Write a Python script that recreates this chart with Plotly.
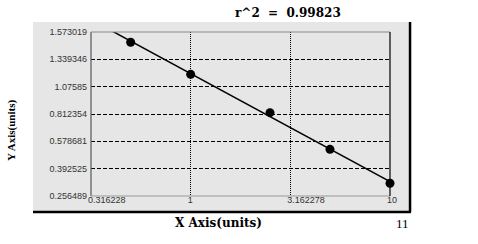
import numpy as np
import plotly.graph_objects as go

# ---- data ----
x_vals = [0.5, 1.0, 2.5, 5.0, 10.0]
y_vals = [1.485, 1.195, 0.825, 0.524, 0.320]
y_tick_labels = ["0.256489", "0.392525", "0.578681", "0.812354", "1.07585", "1.339346", "1.573019"]
x_tick_vals = [0.316228, 1.0, 3.162278, 10.0]
x_tick_labels = ["0.316228", "1", "3.162278", "10"]
r2_text = "r^2  =  0.99823"

# y axis is evenly spaced between its tick labels (piecewise scale)
y_tick_nums = np.array([float(v) for v in y_tick_labels])
y_tick_pos = np.arange(len(y_tick_nums))
y_pos = np.interp(y_vals, y_tick_nums, y_tick_pos)

# fitted line in (log x, axis position) space
coef = np.polyfit(np.log10(x_vals), y_pos, 1)
fit_x = np.logspace(np.log10(x_tick_vals[0]), np.log10(x_tick_vals[-1]), 50)
fit_y = np.polyval(coef, np.log10(fit_x))

fig = go.Figure()
fig.add_trace(go.Scatter(x=fit_x, y=fit_y, mode="lines",
                         line=dict(color="black", width=1.5), hoverinfo="skip"))
fig.add_trace(go.Scatter(x=x_vals, y=y_pos, mode="markers",
                         marker=dict(color="black", size=9, symbol="circle"),
                         cliponaxis=False))

tickfont = dict(family="Liberation Sans, Arial, sans-serif", size=9, color="#333333")

fig.update_layout(
    width=478, height=244,
    margin=dict(l=91, r=88, t=32, b=48),
    paper_bgcolor="white",
    plot_bgcolor="#e6e6e6",
    showlegend=False,
    xaxis=dict(type="log", range=[np.log10(x_tick_vals[0]), np.log10(x_tick_vals[-1])],
               tickvals=x_tick_vals, ticktext=x_tick_labels,
               showgrid=True, gridcolor="black", griddash="1px,1px", gridwidth=1,
               zeroline=False, showline=False, ticks="",
               ticklabelposition="outside right", ticklabelshift=-3,
               ticklabelstandoff=-3,
               tickfont=tickfont),
    yaxis=dict(range=[0, len(y_tick_labels) - 1],
               tickvals=list(y_tick_pos), ticktext=y_tick_labels,
               showgrid=True, gridcolor="black", griddash="4px,2px", gridwidth=1,
               zeroline=False, showline=False, ticks="", ticklen=0,
               ticklabelstandoff=3,
               tickfont=tickfont),
    shapes=[
        # grey panel
        dict(type="rect", xref="paper", yref="paper", x0=-0.194, x1=1.067, y0=-0.0976, y1=1.061,
             fillcolor="#e6e6e6", line=dict(width=0), layer="below"),
        # black shadow edges
        dict(type="line", xref="paper", yref="paper", x0=1.067, x1=1.067, y0=-0.0976, y1=1.061,
             line=dict(color="black", width=2.5)),
        dict(type="line", xref="paper", yref="paper", x0=-0.194, x1=1.07, y0=-0.0976, y1=-0.0976,
             line=dict(color="black", width=2.5)),
        # plot area borders
        dict(type="line", xref="paper", yref="paper", x0=0, x1=0, y0=0, y1=1,
             line=dict(color="#555555", width=1.2)),
        dict(type="line", xref="paper", yref="paper", x0=0, x1=1, y0=1, y1=1,
             line=dict(color="#888888", width=1)),
        dict(type="line", xref="paper", yref="paper", x0=0, x1=1, y0=0, y1=0,
             line=dict(color="#999999", width=1)),
        dict(type="line", xref="paper", yref="paper", x0=1, x1=1, y0=0, y1=1,
             line=dict(color="black", width=1.2)),
    ],
    annotations=[
        dict(text=r2_text, xref="paper", yref="paper", x=0.659, y=1.116,
             xanchor="center", yanchor="middle", showarrow=False,
             font=dict(family="DejaVu Serif", size=12, color="black", weight="bold")),
        dict(text="X Axis(units)", xref="paper", yref="paper", x=0.428, y=-0.165,
             xanchor="center", yanchor="middle", showarrow=False,
             font=dict(family="DejaVu Serif", size=12, color="black", weight="bold")),
        dict(text="11", xref="paper", yref="paper", x=1.043, y=-0.165,
             xanchor="center", yanchor="middle", showarrow=False,
             font=dict(family="Liberation Serif", size=13, color="black")),
        dict(text="Y Axis(units)", xref="paper", yref="paper", x=-0.268, y=0.402,
             xanchor="center", yanchor="middle", showarrow=False, textangle=-90,
             font=dict(family="Liberation Serif", size=11, color="black", weight="bold")),
    ],
)

fig.write_html("out.html")
